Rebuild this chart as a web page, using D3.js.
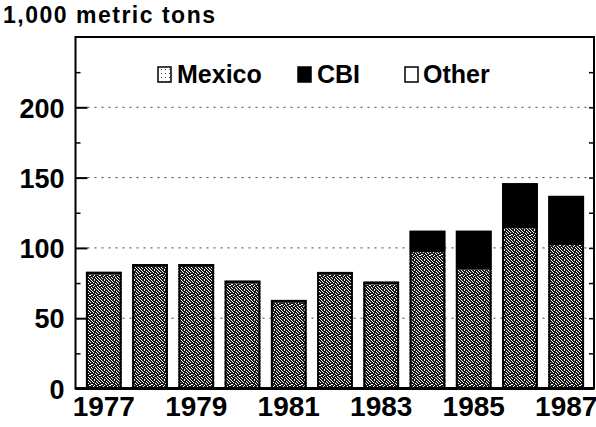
<!DOCTYPE html>
<html><head><meta charset="utf-8">
<script src="https://cdn.jsdelivr.net/npm/d3@7"></script>
<style>
body{margin:0;background:#fff}
text{font-family:"Liberation Sans",Arial,Helvetica,sans-serif;font-weight:bold;fill:#000}
</style>
</head><body>
<svg id="c" width="596" height="427"></svg>
<script>
// ---- data ----
const years = [1977,1978,1979,1980,1981,1982,1983,1984,1985,1986,1987];
const mexico = [81, 86.5, 86.5, 74.7, 61, 80.9, 74, 97, 84.5, 114, 102];
const cbi    = [2, 2, 2, 2, 2, 2, 2, 15.2, 27.7, 32, 35];
const other  = [0, 0, 0, 0, 0, 0, 0, 0, 0, 0, 0];
const seriesNames = ["Mexico","CBI","Other"];
const yMajorTicks = [0,50,100,150,200];
const yMinorTicks = [25,75,125,175,225];
const xTickLabels = [1977,1979,1981,1983,1985,1987];
const unitLabel = "1,000 metric tons";

// ---- layout ----
const svg = d3.select("#c");
const pL = 75.5, pR = 594, pT = 37, pB = 388.5;

const x = d3.scaleBand().domain(years).range([80.7, 589.3]).paddingInner(0.227).paddingOuter(0.113);
const y = d3.scaleLinear().domain([0,250]).range([pB, pT]);

// stipple patterns (fixed texture tile)
const defs = svg.append("defs");
const pat = defs.append("pattern").attr("id","stip").attr("patternUnits","userSpaceOnUse")
  .attr("width",10).attr("height",10);
pat.append("rect").attr("width",10).attr("height",10).attr("fill","#1a1a1a");
const speckRows = [[1,4,8],[2,6,9],[0,3,7],[5,8],[1,2,6],[0,4,9],[3,7],[1,5,8],[2,6,9],[0,4,7]];
speckRows.forEach((cols,r)=>cols.forEach(c=>pat.append("rect").attr("x",c).attr("y",r)
  .attr("width",1).attr("height",1).attr("fill","#fff")));
const pat2 = defs.append("pattern").attr("id","stipL").attr("patternUnits","userSpaceOnUse")
  .attr("width",4).attr("height",4);
pat2.append("rect").attr("width",4).attr("height",4).attr("fill","#fff");
pat2.append("rect").attr("x",1).attr("y",1).attr("width",1).attr("height",1).attr("fill","#444");

// gridlines
svg.append("g").selectAll("line").data([50,100,150,200]).join("line")
  .attr("x1",pL+12).attr("x2",pR-2).attr("y1",d=>y(d)).attr("y2",d=>y(d))
  .attr("stroke","#444").attr("stroke-width",1).attr("stroke-dasharray","2,5");

// stacked bars
const rows = years.map((yr,i)=>({year:yr, Mexico:mexico[i], CBI:cbi[i], Other:other[i]}));
const stack = d3.stack().keys(seriesNames)(rows);
const fills = {Mexico:"url(#stip)", CBI:"#000", Other:"#fff"};
stack.forEach(s=>{
  svg.append("g").selectAll("rect").data(s.filter(d=>d[1]>d[0])).join("rect")
    .attr("x",d=>x(d.data.year)).attr("width",x.bandwidth())
    .attr("y",d=>y(d[1])).attr("height",d=>y(d[0])-y(d[1]))
    .attr("fill",fills[s.key]);
});
// bar outlines
svg.append("g").selectAll("rect").data(rows).join("rect")
  .attr("x",d=>x(d.year)+1).attr("width",x.bandwidth()-2)
  .attr("y",d=>y(d.Mexico+d.CBI+d.Other)+1)
  .attr("height",d=>y(0)-y(d.Mexico+d.CBI+d.Other)-1)
  .attr("fill","none").attr("stroke","#000").attr("stroke-width",2);

// frame
svg.append("rect").attr("x",pL).attr("y",pT).attr("width",pR-pL).attr("height",pB-pT)
  .attr("fill","none").attr("stroke","#000").attr("stroke-width",2);
svg.append("line").attr("x1",pL).attr("x2",pR).attr("y1",pB).attr("y2",pB)
  .attr("stroke","#000").attr("stroke-width",3);

// y axis (major, with labels; ticks inward)
const yAxis = svg.append("g").attr("transform",`translate(${pL},0)`)
  .call(d3.axisLeft(y).tickValues(yMajorTicks).tickSizeInner(-12).tickSizeOuter(0).tickPadding(11));
yAxis.select(".domain").remove();
yAxis.selectAll("line").attr("stroke","#000").attr("stroke-width",2);
yAxis.selectAll("text").attr("font-size",27).attr("font-family","'Liberation Sans',Arial,sans-serif")
  .attr("font-weight","bold").attr("dy","0.36em");
const yMinor = svg.append("g").attr("transform",`translate(${pL},0)`)
  .call(d3.axisLeft(y).tickValues(yMinorTicks).tickSizeInner(-5).tickSizeOuter(0).tickFormat(""));
yMinor.select(".domain").remove();
yMinor.selectAll("line").attr("stroke","#000").attr("stroke-width",1.5);
// right side ticks
const yRight = svg.append("g").attr("transform",`translate(${pR},0)`)
  .call(d3.axisRight(y).tickValues(yMajorTicks.concat(yMinorTicks)).tickSizeInner(-5).tickSizeOuter(0).tickFormat(""));
yRight.select(".domain").remove();
yRight.selectAll("line").attr("stroke","#000").attr("stroke-width",1.5);

// x axis
const xAxis = svg.append("g").attr("transform",`translate(0,${pB})`)
  .call(d3.axisBottom(x).tickValues(xTickLabels).tickSize(0).tickPadding(8));
xAxis.select(".domain").remove();
xAxis.selectAll("text").attr("font-size",28).attr("font-family","'Liberation Sans',Arial,sans-serif")
  .attr("font-weight","bold").attr("dy","0.71em");

// unit label
svg.append("text").attr("x",3).attr("y",23).attr("font-size",23).attr("textLength",212).text(unitLabel);

// legend
const legend = [
  {name:"Mexico", fill:"url(#stipL)", sx:158, tx:177},
  {name:"CBI", fill:"#000", sx:298, tx:317},
  {name:"Other", fill:"#fff", sx:405, tx:423}
];
const lg = svg.append("g");
lg.selectAll("rect").data(legend).join("rect")
  .attr("x",d=>d.sx).attr("y",67).attr("width",13).attr("height",15)
  .attr("fill",d=>d.fill).attr("stroke","#000").attr("stroke-width",1.5);
lg.selectAll("text").data(legend).join("text")
  .attr("x",d=>d.tx).attr("y",83).attr("font-size",25).text(d=>d.name);
</script>
</body></html>
